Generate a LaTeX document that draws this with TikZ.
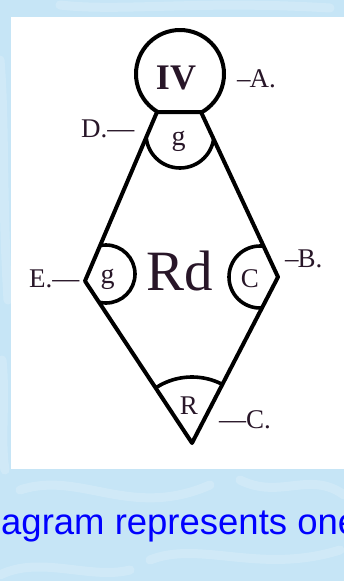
\documentclass[tikz,border=0pt]{standalone}
\usepackage{fontspec}
\setmainfont{Liberation Serif}
\newfontfamily\sansf{Liberation Sans}
\definecolor{bgblue}{RGB}{198,229,246}
\definecolor{ink}{RGB}{40,22,40}
\definecolor{capblue}{RGB}{0,0,255}
\begin{document}
\begin{tikzpicture}[x=1pt,y=-1pt,
  edge/.style={line width=4pt, line join=round, line cap=round},
  arcline/.style={line width=3.6pt},
  texture/.style={white, opacity=0.18, line width=9pt, line cap=round},
  lbl/.style={text=ink, font=\fontsize{27}{27}\selectfont, inner sep=0pt, anchor=base west},
  inlbl/.style={text=ink, font=\fontsize{27}{27}\selectfont, inner sep=0pt, anchor=base}]
\useasboundingbox (0,0) rectangle (344,581);
\clip (0,0) rectangle (344,581);
\fill[bgblue] (0,0) rectangle (344,581);
% watery background texture
\draw[texture] (0,60) .. controls (5,120) and (2,200) .. (8,300);
\draw[texture] (2,360) .. controls (6,400) and (0,440) .. (5,470);
\draw[texture] (20,490) .. controls (80,470) and (130,520) .. (210,485);
\draw[texture] (150,560) .. controls (200,540) and (260,575) .. (340,550);
\draw[texture] (0,575) .. controls (40,555) and (90,580) .. (130,570);
\draw[texture] (240,480) .. controls (280,500) and (310,470) .. (344,495);
\draw[texture] (60,5) .. controls (120,12) and (200,0) .. (330,8);
% white panel
\fill[white] (11,17) rectangle (344,469);
% kite vertices
\coordinate (TL) at (157,112);
\coordinate (TR) at (201,112);
\coordinate (L) at (85,281);
\coordinate (R) at (278,277);
\coordinate (B) at (192,443);
% top circle
\begin{scope}
  \clip (0,0) rectangle (344,112);
  \draw[edge] (180,74) circle[radius=44pt];
\end{scope}
% sector arcs
\begin{scope}
  \clip (TL) -- (TR) -- (R) -- (B) -- (L) -- cycle;
  \draw[arcline] (180,134) circle[radius=34pt];
  \draw[arcline] (106,274) circle[radius=29pt];
  \draw[arcline] (260,277) circle[radius=31pt];
  \draw[arcline] (B) circle[radius=66pt];
\end{scope}
% kite outline
\draw[edge] (TL) -- (TR) -- (R) -- (B) -- (L) -- cycle;
% texts
\node[inlbl, font=\bfseries\fontsize{36}{36}\selectfont] (iv) at (176,89) {IV};
\node[inlbl, font=\fontsize{28}{28}\selectfont] (g1) at (178.5,145) {g};
\node[inlbl, font=\fontsize{28}{28}\selectfont] (g2) at (107.5,283) {g};
\node[inlbl] (cc) at (250,287) {C};
\node[inlbl] (rr) at (189,414) {R};
\node[lbl, font=\fontsize{57}{57}\selectfont] (rd) at (146,290) {Rd};
\node[lbl] (la) at (237,87) {–\kern-1ptA.};
\node[lbl] (ld) at (81,137) {D.—};
\node[lbl] (le) at (29,287) {E.—};
\node[lbl] (lb) at (285,267) {–\kern-1ptB.};
\node[lbl] (lc) at (219,428) {—C.};
\node[anchor=base west, inner sep=0pt, text=capblue, font=\sansf\fontsize{36.5}{36.5}\selectfont] (cap) at (1,534) {agram represents one};
\end{tikzpicture}
\end{document}
